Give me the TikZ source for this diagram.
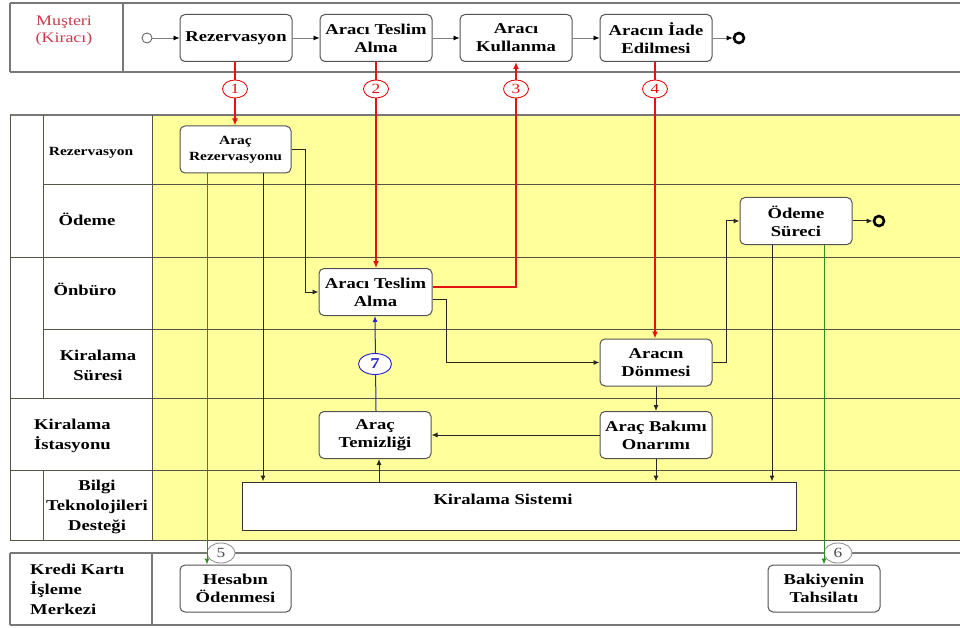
\documentclass[tikz,border=0pt]{standalone}
\usepackage{fontspec}
\setmainfont{Liberation Serif}[FakeStretch=1.24]
\usetikzlibrary{arrows.meta,shapes.geometric}

\definecolor{laneyellow}{RGB}{255,255,155}
\definecolor{flowred}{RGB}{228,18,18}
\definecolor{msgreen}{RGB}{45,140,35}
\definecolor{msblue}{RGB}{35,35,205}
\definecolor{poolline}{RGB}{120,120,120}
\definecolor{laneline}{RGB}{85,85,70}
\definecolor{custred}{RGB}{200,60,75}
\definecolor{tagline}{RGB}{150,150,150}

\tikzset{
  task/.style={draw=gray!65!black, line width=1pt, fill=white, rounded corners=5pt,
    minimum width=112pt, minimum height=47pt, inner sep=1pt, align=center,
    font=\fontsize{15}{18}\selectfont\bfseries},
  lanelbl/.style={align=center, inner sep=0pt, font=\fontsize{15}{20}\selectfont\bfseries},
  seqflow/.style={draw=gray, line width=0.8pt, -{Latex[length=6pt,width=5pt,color=black]}},
  ctrl/.style={draw=black!85, line width=1pt, -{Latex[length=6pt,width=5pt]}},
  redmsg/.style={draw=flowred, line width=1.8pt, -{Latex[length=7pt,width=6pt]}},
  greenmsg/.style={draw=msgreen, line width=1pt, -{Latex[length=6pt,width=5pt]}},
  bluemsg/.style={draw=msblue, line width=1pt, -{Latex[length=6pt,width=5pt]}},
  numtag/.style={ellipse, fill=white, line width=0.9pt, minimum width=25pt,
    minimum height=18pt, inner sep=0pt, font=\fontsize{14}{14}\selectfont},
  startev/.style={circle, draw=gray!80!black, line width=0.9pt, minimum size=10pt, inner sep=0pt},
  endev/.style={circle, draw=black, line width=2.6pt, minimum size=10pt, inner sep=0pt},
}

\begin{document}
\begin{tikzpicture}[x=1pt, y=-1pt]
\useasboundingbox (0,0) rectangle (960,628);
\fill[white] (0,0) rectangle (960,628);

% ---- customer pool ----
\draw[poolline, line width=1.5pt] (10,3) -- (960,3) (10,72) -- (960,72)
  (10,3) -- (10,72) (123,3) -- (123,72);
\node[font=\fontsize{14.5}{17}\selectfont, text=custred, align=center] (lMus) at (64,31) {Muşteri\\(Kiracı)};

% ---- rental company pool ----
\fill[laneyellow] (152,115) rectangle (960,540);
\draw[poolline, line width=1.5pt] (10,115) -- (960,115);
\draw[laneline, line width=1pt]
  (43,185) -- (960,185)
  (10,257) -- (960,257)
  (43,329) -- (960,329)
  (10,398) -- (960,398)
  (10,470) -- (960,470)
  (10,540) -- (960,540)
  (10,115) -- (10,540)
  (43,115) -- (43,398)
  (43,470) -- (43,540)
  (152,115) -- (152,540);

\node[lanelbl, font=\fontsize{12.5}{15}\selectfont\bfseries] (lRez) at (91,153) {Rezervasyon};
\node[lanelbl] (lOde) at (87,219) {Ödeme};
\node[lanelbl] (lOnb) at (85,289) {Önbüro};
\node[lanelbl] (lKS) at (98,365) {Kiralama\\Süresi};
\node[lanelbl, align=left, anchor=west] (lKI) at (34,436) {Kiralama\\İstasyonu};
\node[lanelbl] (lBT) at (97,507) {Bilgi\\Teknolojileri\\Desteği};

% ---- credit card pool ----
\draw[poolline, line width=1.5pt] (10,553) -- (960,553) (10,625) -- (960,625)
  (10,553) -- (10,625) (152,553) -- (152,625);
\node[lanelbl, align=left, anchor=west] (lKK) at (30,589) {Kredi Kartı\\İşleme\\Merkezi};

% ---- customer activities ----
\node[startev] (s0) at (147,38) {};
\node[task] (cRez) at (236,38) {Rezervasyon};
\node[task] (cATA) at (376,38) {Aracı Teslim\\Alma};
\node[task] (cAK) at (516,38) {Aracı\\Kullanma};
\node[task] (cAIE) at (656,38) {Aracın İade\\Edilmesi};
\node[endev] (e0) at (739,38) {};

% ---- company activities ----
\node[task, minimum width=111pt, font=\fontsize{12.5}{16}\selectfont\bfseries] (ARz) at (235.5,149.5) {Araç\\Rezervasyonu};
\node[task, minimum width=113pt] (ATA) at (375.5,292) {Aracı Teslim\\Alma};
\node[task] (OS) at (796,221) {Ödeme\\Süreci};
\node[endev] (e1) at (879,221) {};
\node[task] (ADn) at (656,362.5) {Aracın\\Dönmesi};
\node[task] (AT) at (375,435) {Araç\\Temizliği};
\node[task] (ABO) at (656,435) {Araç Bakımı\\Onarımı};
\node[draw=black!80, line width=1pt, fill=white, minimum width=554pt, minimum height=48pt,
  inner sep=0pt, label={[font=\fontsize{15}{18}\selectfont\bfseries, xshift=-16pt, yshift=7pt]center:Kiralama Sistemi}]
  (KS) at (519,506) {};
\node[task, minimum width=111pt] (HO) at (235.5,588.5) {Hesabın\\Ödenmesi};
\node[task] (BT) at (824,588.5) {Bakiyenin\\Tahsilatı};

% ---- customer sequence flow ----
\draw[seqflow] (s0) -- (cRez);
\draw[seqflow] (cRez) -- (cATA);
\draw[seqflow] (cATA) -- (cAK);
\draw[seqflow] (cAK) -- (cAIE);
\draw[seqflow] (cAIE) -- (e0);

% ---- company sequence flow ----
\draw[ctrl] (ARz.east) -- ++(14,0) |- (ATA.west);
\draw[ctrl] ([yshift=-7pt]ATA.east) -- ++(14,0) |- (ADn.west);
\draw[ctrl] (ADn.east) -- ++(14,0) |- (OS.west);
\draw[ctrl] (OS) -- (e1);
\draw[ctrl] (ADn) -- (ABO);
\draw[ctrl] (ABO) -- (AT);
\draw[ctrl] (ABO.south) -- (ABO.south |- KS.north);
\draw[ctrl] ([xshift=4pt]KS.north -| AT.south) -- ([xshift=4pt]AT.south);
\draw[ctrl] ([xshift=27.5pt]ARz.south) -- ([xshift=27.5pt]ARz.south |- KS.north);
\draw[ctrl] ([xshift=-24pt]OS.south) -- ([xshift=-24pt]OS.south |- KS.north);

% ---- messages between pools ----
\draw[redmsg] ([xshift=-1pt]cRez.south) -- ([xshift=-0.5pt]ARz.north);
\draw[redmsg] (cATA.south) -- ([xshift=0.5pt]ATA.north);
\draw[redmsg] ([yshift=5pt]ATA.east) -| (cAK.south);
\draw[redmsg] ([xshift=-1pt]cAIE.south) -- ([xshift=-1pt]ADn.north);
\node[numtag, draw=flowred, text=flowred] (t1) at (235,89) {1};
\node[numtag, draw=flowred, text=flowred] (t2) at (376,89) {2};
\node[numtag, draw=flowred, text=flowred] (t3) at (516,89) {3};
\node[numtag, draw=flowred, text=flowred] (t4) at (655,89) {4};

\node[numtag, draw=tagline, text=black!70, minimum width=28pt, minimum height=20pt] (t5) at (221,553) {5};
\node[numtag, draw=tagline, text=black!70, minimum width=28pt, minimum height=20pt] (t6) at (838,553) {6};
\draw[greenmsg] ([xshift=-28.5pt]ARz.south) -- ([xshift=-28.5pt]HO.north);
\draw[greenmsg] ([xshift=28pt]OS.south) -- (BT.north);

\draw[bluemsg] ([xshift=1pt]AT.north) -- (AT.north |- ATA.south);
\node[numtag, draw=msblue, text=msblue, minimum width=33pt, minimum height=21pt,
  font=\fontsize{15}{15}\selectfont\bfseries] (t7) at (375,364) {7};
\end{tikzpicture}
\end{document}
